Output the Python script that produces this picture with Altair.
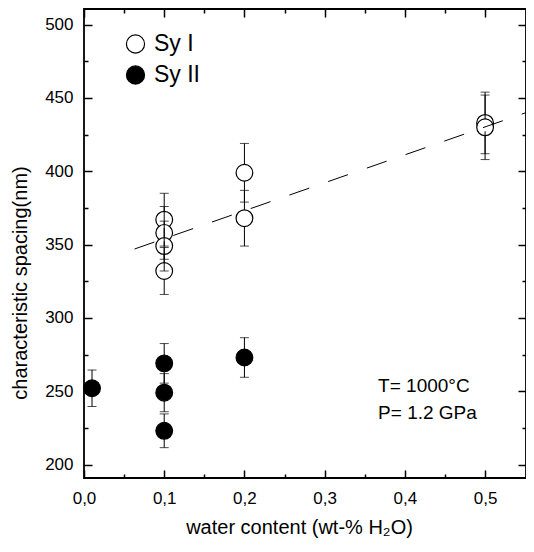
import math
import altair as alt
import pandas as pd

# ---- data ----
syI_x = [0.1, 0.1, 0.1, 0.1, 0.2, 0.2, 0.5, 0.5]
syI_y = [367, 358, 349, 332, 399, 368, 433, 430]
syI_err = [18, 18, 17, 16, 20, 19, 21, 22]

syII_x = [0.01, 0.1, 0.1, 0.1, 0.2]
syII_y = [252, 269, 249, 223, 273]
syII_err = [12.5, 13.5, 13, 11.5, 13.5]

fit_x = [0.063, 0.551]
fit_y = [347, 440]

x_major = [0.0, 0.1, 0.2, 0.3, 0.4, 0.5]
x_minor = [0.05, 0.15, 0.25, 0.35, 0.45]
y_major = [200, 250, 300, 350, 400, 450, 500]
y_minor = [225, 275, 325, 375, 425, 475]

note_text = ["T= 1000°C", "P= 1.2 GPa"]
note_x = [0.3666, 0.3666]
note_y = [253.5, 234.8]

# ---- layout ----
W, H = 442, 469
XMIN, XMAX = 0.0, 0.551
YMIN, YMAX = 190.8, 510.7
SIZE = 280
LEG_SIZE = 330
FONT = "Liberation Sans"

xs = alt.Scale(domain=[XMIN, XMAX], nice=False, zero=False)
ys = alt.Scale(domain=[YMIN, YMAX], nice=False, zero=False)

pts = pd.DataFrame({
    "x": syI_x + syII_x,
    "y": syI_y + syII_y,
    "err": syI_err + syII_err,
    "series": ["Sy I"] * len(syI_x) + ["Sy II"] * len(syII_x),
})
r_data = (math.sqrt(SIZE) / 2) / (H / (YMAX - YMIN))
pts["hi"] = pts["y"] + pts["err"]
pts["lo"] = pts["y"] - pts["err"]
pts["top_in"] = pts["y"] + r_data
pts["bot_in"] = pts["y"] - r_data

fit = pd.DataFrame({"x": fit_x, "y": fit_y})
notes = pd.DataFrame({"x": note_x, "y": note_y, "t": note_text})

common_tick = dict(domain=False, grid=False, tickColor="black", tickWidth=1.5)


def ax_major_x():
    return alt.Axis(values=x_major, tickSize=8, offset=-8, labelFlush=False,
                    labelExpr="replace(format(datum.value, '.1f'), '.', ',')",
                    labelFontSize=17, labelFont=FONT, labelColor="black",
                    labelPadding=12, title="water content (wt-% H₂O)",
                    titleFontSize=20, titleFont=FONT, titleFontWeight="normal",
                    titleColor="black", titleX=215, titleY=57,
                    titleBaseline="middle", titleAlign="center",
                    **common_tick)


def ax_major_y():
    return alt.Axis(values=y_major, tickSize=8, offset=-8, labelFlush=False,
                    labelFontSize=17, labelFont=FONT, labelColor="black",
                    labelPadding=11, title="characteristic spacing(nm)",
                    titleFontSize=20, titleFont=FONT, titleFontWeight="normal",
                    titleColor="black", titleX=-71.5, titleY=273.5,
                    titleBaseline="middle", titleAlign="center",
                    **common_tick)


def ax_plain(vals, size, orient):
    return alt.Axis(values=vals, tickSize=size, offset=-size, labels=False,
                    title=None, orient=orient, **common_tick)


base = alt.Chart(pts)

circles = base.mark_point(shape="circle", filled=True, size=SIZE, stroke="black",
                          strokeWidth=1.2, opacity=1).encode(
    x=alt.X("x:Q", scale=xs, axis=ax_major_x()),
    y=alt.Y("y:Q", scale=ys, axis=ax_major_y()),
    fill=alt.Fill("series:N",
                  scale=alt.Scale(domain=["Sy I", "Sy II"], range=["white", "black"]),
                  legend=alt.Legend(title=None, orient="none", legendX=40, legendY=23.5,
                                    labelFontSize=23, labelFont=FONT, labelColor="black",
                                    symbolSize=LEG_SIZE, symbolType="circle",
                                    symbolStrokeColor="black", symbolStrokeWidth=1.2,
                                    rowPadding=7, labelOffset=7, padding=0)),
)

bar_up = base.mark_rule(color="black", strokeWidth=1).encode(
    x=alt.X("x:Q", scale=xs, axis=None),
    y=alt.Y("top_in:Q", scale=ys, axis=None),
    y2="hi:Q",
)
bar_dn = base.mark_rule(color="black", strokeWidth=1).encode(
    x=alt.X("x:Q", scale=xs, axis=None),
    y=alt.Y("lo:Q", scale=ys, axis=None),
    y2="bot_in:Q",
)
cap_hi = base.mark_tick(color="black", size=9, thickness=1, orient="horizontal").encode(
    x=alt.X("x:Q", scale=xs, axis=None),
    y=alt.Y("hi:Q", scale=ys, axis=None),
)
cap_lo = base.mark_tick(color="black", size=9, thickness=1, orient="horizontal").encode(
    x=alt.X("x:Q", scale=xs, axis=None),
    y=alt.Y("lo:Q", scale=ys, axis=None),
)

fit_line = alt.Chart(fit).mark_line(color="black", strokeWidth=1,
                                    strokeDash=[21, 20]).encode(
    x=alt.X("x:Q", scale=xs, axis=None),
    y=alt.Y("y:Q", scale=ys, axis=None),
)

note = alt.Chart(notes).mark_text(align="left", baseline="middle", font=FONT,
                                  fontSize=19, color="black").encode(
    x=alt.X("x:Q", scale=xs, axis=None),
    y=alt.Y("y:Q", scale=ys, axis=None),
    text="t:N",
)

ghost = base.mark_point(opacity=0, size=1)
minor_bl = ghost.encode(
    x=alt.X("x:Q", scale=xs, axis=ax_plain(x_minor, 4, "bottom")),
    y=alt.Y("y:Q", scale=ys, axis=ax_plain(y_minor, 4, "left")),
)
major_tr = ghost.encode(
    x=alt.X("x:Q", scale=xs, axis=ax_plain(x_major, 8, "top")),
    y=alt.Y("y:Q", scale=ys, axis=ax_plain(y_major, 8, "right")),
)
minor_tr = ghost.encode(
    x=alt.X("x:Q", scale=xs, axis=ax_plain(x_minor, 4, "top")),
    y=alt.Y("y:Q", scale=ys, axis=ax_plain(y_minor, 4, "right")),
)

chart = alt.layer(
    circles, bar_up, bar_dn, cap_hi, cap_lo, fit_line, note,
    minor_bl, major_tr, minor_tr,
).resolve_axis(x="independent", y="independent").properties(
    width=W, height=H,
    autosize=alt.AutoSizeParams(type="none"),
    padding={"left": 76, "top": 1, "right": 0, "bottom": 61},
    background="white",
).configure_view(stroke="black", strokeWidth=1.8)

chart.save("out.html", embed_options={"renderer": "svg", "actions": False})
